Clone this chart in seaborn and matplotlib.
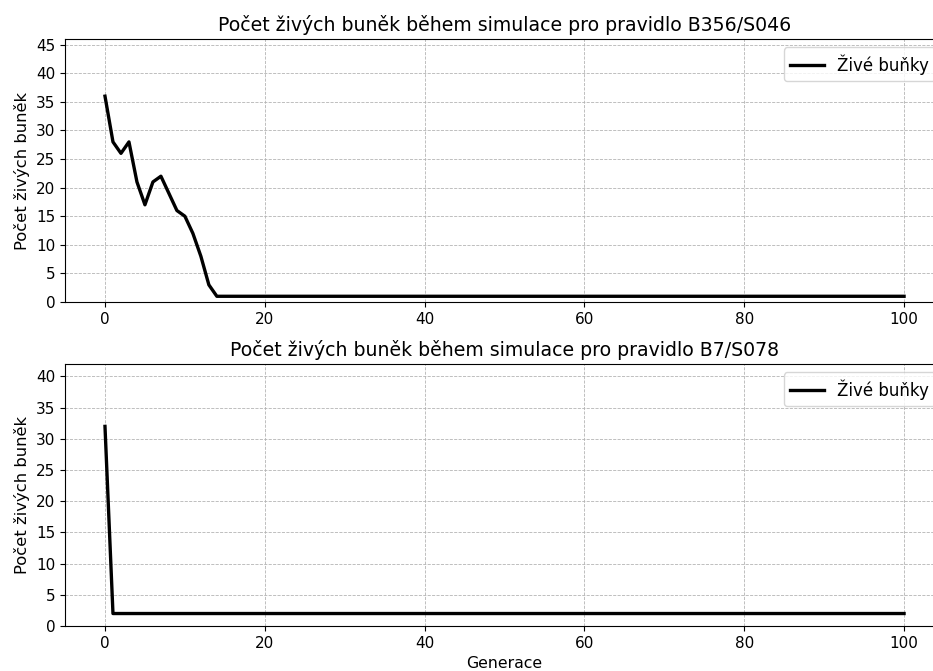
import numpy as np
import pandas as pd
import matplotlib.pyplot as plt
import seaborn as sns
from matplotlib.ticker import MultipleLocator

# data
gen = list(range(0, 101))
alive_b356 = [36, 28, 26, 28, 21, 17, 21, 22, 19, 16, 15, 12, 8, 3] + [1] * 87
alive_b7 = [32] + [2] * 100

rules = ['B356/S046', 'B7/S078']
series = [alive_b356, alive_b7]

plt.rcParams['font.family'] = ['DejaVu Sans']

fig, axes = plt.subplots(2, 1, figsize=(9.33, 6.71), dpi=100)

for ax, rule, vals in zip(axes, rules, series):
    df = pd.DataFrame({'Generace': gen, 'Živé buňky': vals})
    sns.lineplot(data=df, x='Generace', y='Živé buňky', ax=ax,
                 color='black', linewidth=2.4, label='Živé buňky')
    ax.set_title(f'Počet živých buněk během simulace pro pravidlo {rule}', fontsize=13.6)
    ax.set_ylabel('Počet živých buněk', fontsize=11.8)
    ax.set_xlabel('')
    ax.set_xlim(-5, 105)
    ax.set_ylim(0, max(vals) + 10)
    ax.yaxis.set_major_locator(MultipleLocator(5))
    ax.xaxis.set_major_locator(MultipleLocator(20))
    ax.tick_params(labelsize=11)
    ax.grid(True, linestyle='--', color='#b4b4b4', linewidth=0.6)
    ax.legend(loc='upper right', fontsize=12)

axes[1].set_xlabel('Generace', fontsize=11.3)

# the original figure is cut off on the right side
fig.subplots_adjust(left=0.0697, right=1.0118, top=0.9419, bottom=0.0671, hspace=0.2)
pos0 = axes[0].get_position()
axes[0].set_position([pos0.x0, 1 - 302 / 671, pos0.width, (302 - 39) / 671])
axes[1].set_position([pos0.x0, 1 - 626 / 671, pos0.width, (626 - 364) / 671])

plt.savefig('out.png', dpi=100)
plt.close()
